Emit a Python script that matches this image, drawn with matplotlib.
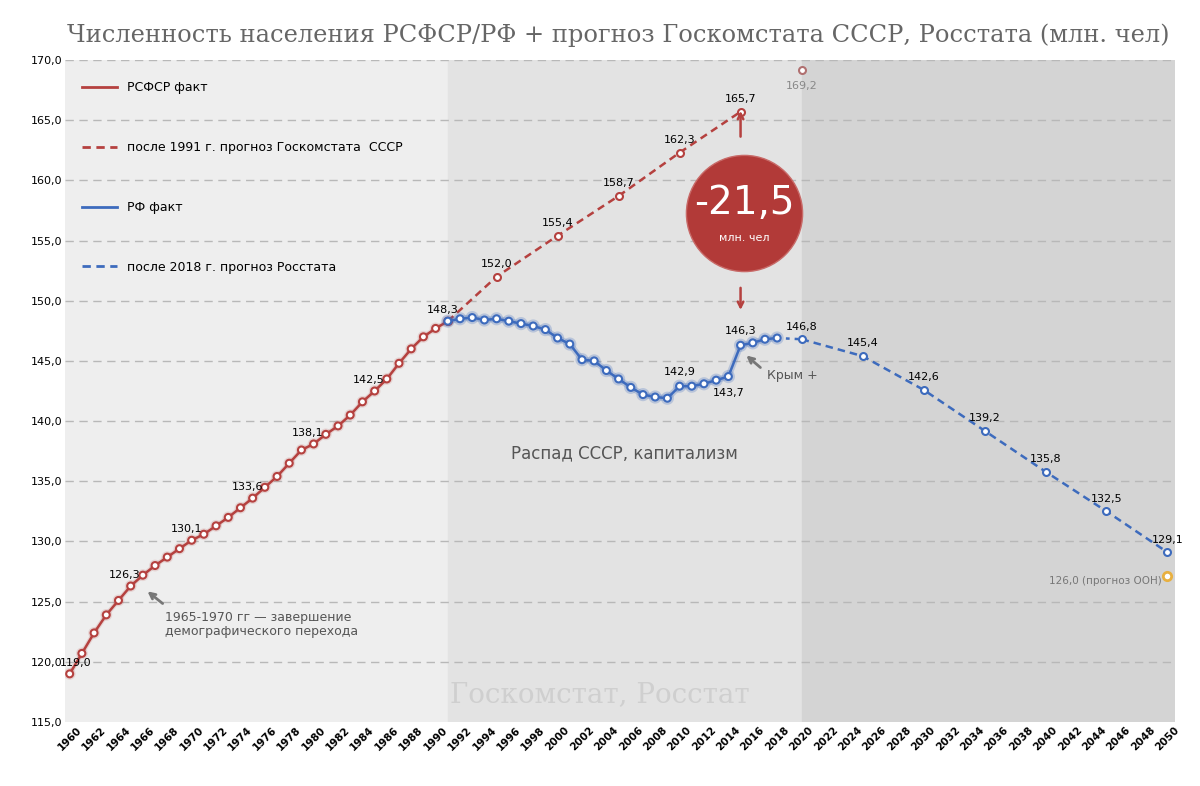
import matplotlib
matplotlib.use("Agg")
import matplotlib.pyplot as plt
import matplotlib.patheffects as pe
from matplotlib.lines import Line2D

years_rsfsr = list(range(1960, 1992))
pop_rsfsr = [119.0,120.7,122.4,123.9,125.1,126.3,127.2,128.0,128.7,129.4,130.1,130.6,131.3,132.0,
             132.8,133.6,134.5,135.4,136.5,137.6,138.1,138.9,139.6,140.5,141.6,142.5,143.5,144.8,
             146.0,147.0,147.7,148.3]
years_gks = [1991, 1995, 2000, 2005, 2010, 2015]
pop_gks = [148.3, 152.0, 155.4, 158.7, 162.3, 165.7]
gks_2020 = (2020, 169.2)
years_rf = list(range(1991, 2019))
pop_rf = [148.3,148.5,148.6,148.4,148.5,148.3,148.1,147.9,147.6,146.9,146.4,145.1,145.0,144.2,
          143.5,142.8,142.2,142.0,141.9,142.9,142.9,143.1,143.4,143.7,146.3,146.5,146.8,146.9]
years_rs = [2020, 2025, 2030, 2035, 2040, 2045, 2050]
pop_rs = [146.8, 145.4, 142.6, 139.2, 135.8, 132.5, 129.1]
un_2050 = (2050, 127.1)

RED = "#b5413f"; BLUE = "#3d6bbd"
fig = plt.figure(figsize=(12, 7.86), dpi=100)
ax = fig.add_axes([0.054, 0.0814, 0.925, 0.8423])
ax.set_xlim(1959.6, 2050.6); ax.set_ylim(115, 170)
ax.set_facecolor("#eeeeee")
ax.axvspan(1991, 2020, color="#e3e3e3", zorder=0)
ax.axvspan(2020, 2050.6, color="#d4d4d4", zorder=0)
for y in range(120, 171, 5):
    ax.axhline(y, color="#b8b8b8", ls=(0, (6, 4)), lw=1, zorder=1)
for s in ax.spines.values(): s.set_visible(False)
ax.set_yticks(range(115, 171, 5))
ax.set_yticklabels([f"{y},0" for y in range(115, 171, 5)], fontsize=8)
ax.set_xticks(range(1960, 2051, 2))
ax.set_xticklabels([str(x) for x in range(1960, 2051, 2)], rotation=45, fontsize=7.5, fontweight="bold")
ax.tick_params(length=0, pad=2)

glowr = [pe.Stroke(linewidth=3.5, foreground=RED, alpha=0.15), pe.Normal()]
glowb = [pe.Stroke(linewidth=4.5, foreground=BLUE, alpha=0.25), pe.Normal()]
mk = dict(marker="o", ms=5, mfc="white", mew=1.5)
ax.plot(years_rsfsr, pop_rsfsr, color=RED, lw=1.8, mec=RED, zorder=4, path_effects=glowr, **mk)
ax.plot(years_gks, pop_gks, color=RED, lw=1.8, ls=(0, (3, 2)), mec=RED, zorder=4, **mk)
ax.plot(*gks_2020, color="#b07070", mec="#b07070", zorder=4, **mk)
ax.plot(years_rf, pop_rf, color=BLUE, lw=1.8, mec=BLUE, zorder=5, path_effects=glowb, **mk)
ax.plot([years_rf[-1], years_rs[0]], [pop_rf[-1], pop_rs[0]], color=BLUE, lw=1.8, ls=(0, (1.5, 2)), zorder=4)
ax.plot(years_rs, pop_rs, color=BLUE, lw=1.8, ls=(0, (3, 2)), mec=BLUE, zorder=5, **mk)
ax.plot(*un_2050, marker="o", ms=6, mfc="white", mec="#e8b040", mew=2, zorder=5)

def lab(x, y, t, dx=0, dy=6, c="black"):
    ax.annotate(t, (x, y), xytext=(dx, dy), textcoords="offset points", ha="center", fontsize=8, color=c, zorder=6)
lab(1960, 119.0, "119,0", 4, 6)
for x, y in [(1965, 126.3), (1970, 130.1), (1975, 133.6), (1980, 138.1), (1985, 142.5), (1991, 148.3)]:
    lab(x, y, f"{y}".replace(".", ","), -4, 6)
for x, y in zip(years_gks[1:], pop_gks[1:]):
    lab(x, y, f"{y}".replace(".", ","), 0, 7)
lab(2020, 169.2, "169,2", 0, -14, "#888888")
lab(2010, 142.9, "142,9", 0, 8)
lab(2014, 143.7, "143,7", 0, -14)
lab(2015, 146.3, "146,3", 0, 8)
for x, y in zip(years_rs, pop_rs):
    lab(x, y, f"{y}".replace(".", ","), 0, 7)
ax.annotate("126,0 (прогноз ООН)", un_2050, xytext=(-4, -3), textcoords="offset points", ha="right", va="center", fontsize=7.5, color="#777777")

ax.annotate("", xy=(1966.2, 126.0), xytext=(1967.8, 124.7), arrowprops=dict(arrowstyle="->", color="#777777", lw=2))
ax.text(1967.8, 124.2, "1965-1970 гг — завершение\nдемографического перехода", fontsize=9, color="#555555", va="top", linespacing=1.1)
ax.annotate("", xy=(2015.3, 145.6), xytext=(2016.8, 144.3), arrowprops=dict(arrowstyle="->", color="#777777", lw=2))
ax.text(2017.2, 143.8, "Крым +", fontsize=9, color="#555555", va="center")
ax.text(2005.5, 137.3, "Распад СССР, капитализм", fontsize=12, color="#555555", ha="center", va="center")
ax.text(2003.5, 117.3, "Госкомстат, Росстат", fontsize=20, color="#cfcfcf", ha="center", va="center", family="DejaVu Serif")

ax.scatter([2015.3], [157.3], s=7000, color="#b23a38", zorder=7, edgecolors="#c86a68", linewidths=1)
ax.text(2015.3, 158.1, "-21,5", fontsize=28, color="white", ha="center", va="center", zorder=8)
ax.text(2015.3, 155.2, "млн. чел", fontsize=8, color="white", ha="center", va="center", zorder=8)
ax.annotate("", xy=(2015, 166.0), xytext=(2015, 163.4), arrowprops=dict(arrowstyle="->", color=RED, lw=1.8), zorder=8)
ax.annotate("", xy=(2015, 149.0), xytext=(2015, 151.3), arrowprops=dict(arrowstyle="->", color=RED, lw=1.8), zorder=8)

handles = [Line2D([], [], color=RED, lw=2), Line2D([], [], color=RED, lw=2, ls=(0, (3, 2))),
           Line2D([], [], color=BLUE, lw=2), Line2D([], [], color=BLUE, lw=2, ls=(0, (3, 2)))]
labels = ["РСФСР факт", "после 1991 г. прогноз Госкомстата  СССР", "РФ факт", "после 2018 г. прогноз Росстата"]
ax.legend(handles, labels, loc="upper left", bbox_to_anchor=(0.005, 0.985), frameon=False, fontsize=9,
          labelspacing=3.75, handlelength=2.8)
fig.text(0.515, 0.955, "Численность населения РСФСР/РФ + прогноз Госкомстата СССР, Росстата (млн. чел)",
         ha="center", va="center", fontsize=17.4, color="#666666", family="DejaVu Serif")
fig.savefig("out.png", dpi=100)
